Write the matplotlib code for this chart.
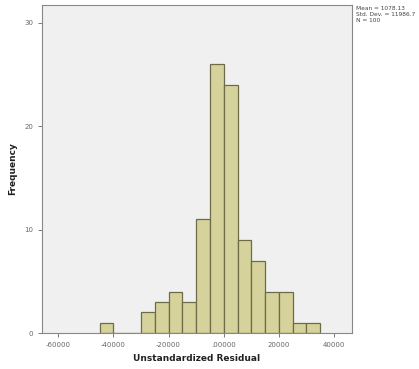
import numpy as np
import matplotlib
matplotlib.use("Agg")
import matplotlib.pyplot as plt

# histogram of the residuals
bin_edges = [-45000, -40000, -35000, -30000, -25000, -20000, -15000, -10000,
             -5000, 0, 5000, 10000, 15000, 20000, 25000, 30000, 35000]
counts = [1, 0, 0, 2, 3, 4, 3, 11, 26, 24, 9, 7, 4, 4, 1, 1]

x_ticks = [-60000, -40000, -20000, 0, 20000, 40000]
x_tick_labels = ["-60000", "-40000", "-20000", ".00000", "20000", "40000"]
y_ticks = [0, 10, 20, 30]

stats_lines = ["Mean = 1078.13", "Std. Dev. = 11986.7", "N = 100"]


def main():
    fig = plt.figure(figsize=(4.19, 3.69), dpi=100)
    ax = fig.add_axes([42 / 419, 1 - 333 / 369, 310 / 419, 328 / 369])
    ax.set_facecolor("#f0f0f0")

    edges = np.array(bin_edges)
    widths = np.diff(edges)
    ax.bar(edges[:-1], counts, width=widths, align="edge",
           color="#d6d29c", edgecolor="#6e6c48", linewidth=0.9)

    ax.set_xlim(-65900, 46500)
    ax.set_ylim(0, 31.7)

    ax.set_xticks(x_ticks)
    ax.set_xticklabels(x_tick_labels)
    ax.set_yticks(y_ticks)
    ax.tick_params(axis="both", labelsize=5, colors="#666666", length=3, width=0.6)

    for s in ax.spines.values():
        s.set_color("#888888")
        s.set_linewidth(0.8)

    ax.set_xlabel("Unstandardized Residual", fontsize=6.5, fontweight="bold",
                  color="#222222", labelpad=4)
    ax.set_ylabel("Frequency", fontsize=6.5, fontweight="bold",
                  color="#222222", labelpad=5)

    fig.text(356 / 419, 1 - 6 / 369, "\n".join(stats_lines), fontsize=4.2,
             va="top", ha="left", color="#444444", linespacing=1.2)

    fig.savefig("out.png", dpi=100)


if __name__ == "__main__":
    main()
